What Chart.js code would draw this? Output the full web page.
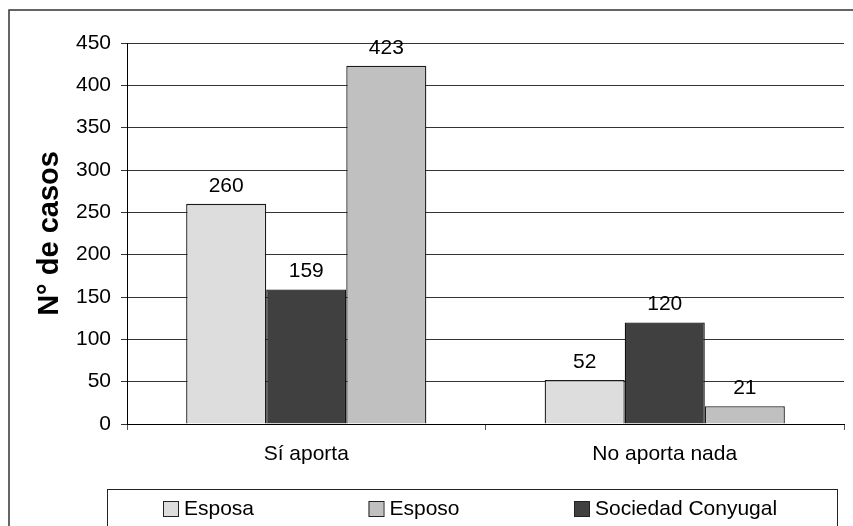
<!DOCTYPE html>
<html>
<head>
<meta charset="utf-8">
<script src="https://cdn.jsdelivr.net/npm/chart.js@4/dist/chart.umd.min.js"></script>
<style>
  html, body { margin: 0; padding: 0; background: #fff; }
  #grafico { display: block; }
</style>
</head>
<body>
<canvas id="grafico" width="853" height="526"></canvas>
<script>
// datos
var categorias = ["Sí aporta", "No aporta nada"];
var esposa = [260, 52];
var sociedad = [159, 120];
var esposo = [423, 21];
var ticksY = { min: 0, max: 450, paso: 50 };
var ordenLeyenda = [0, 2, 1]; // Esposa, Esposo, Sociedad Conyugal

var fuente = "'Liberation Sans', Arial, sans-serif";

// fondo + marco exterior
var marco = {
	id: 'marco',
	beforeDraw: function(chart){
		var ctx = chart.ctx;
		ctx.save();
		ctx.fillStyle = '#fff';
		ctx.fillRect(0, 0, chart.width, chart.height);
		ctx.strokeStyle = '#333';
		ctx.lineWidth = 1.5;
		ctx.strokeRect(9, 10, chart.width, chart.height);
		ctx.restore();
	}
};

// valores encima de cada barra
var etiquetas = {
	id: 'etiquetas',
	afterDatasetsDraw: function(chart){
		var ctx = chart.ctx;
		ctx.save();
		ctx.font = '21px ' + fuente;
		ctx.fillStyle = '#000';
		ctx.textAlign = 'center';
		ctx.textBaseline = 'alphabetic';
		chart.data.datasets.forEach(function(ds, i){
			var meta = chart.getDatasetMeta(i);
			meta.data.forEach(function(bar, j){
				ctx.fillText(String(ds.data[j]), bar.x, bar.y - 12);
			});
		});
		ctx.restore();
	}
};

// leyenda con recuadro, como la de Excel
var leyenda = {
	id: 'leyenda',
	afterDraw: function(chart){
		var ctx = chart.ctx;
		ctx.save();
		ctx.strokeStyle = '#222';
		ctx.lineWidth = 1;
		ctx.strokeRect(107.5, 489.5, 730, 60);
		ctx.font = '21px ' + fuente;
		ctx.textBaseline = 'middle';
		ctx.textAlign = 'left';
		ordenLeyenda.forEach(function(idx, k){
			var ds = chart.data.datasets[idx];
			var x = 163 + k * 205.5;
			ctx.fillStyle = ds.backgroundColor;
			ctx.fillRect(x, 501, 15, 15);
			ctx.strokeStyle = '#222';
			ctx.strokeRect(x + 0.5, 501.5, 15, 15);
			ctx.fillStyle = '#000';
			ctx.fillText(ds.label, x + 21, 509);
		});
		ctx.restore();
	}
};

var datos = {
	type: 'bar',
	data: {
		labels: categorias,
		datasets: [
			{ label: 'Esposa', data: esposa, backgroundColor: '#dddddd', borderColor: '#1a1a1a', borderWidth: 1.3 },
			{ label: 'Sociedad Conyugal', data: sociedad, backgroundColor: '#404040', borderColor: '#111', borderWidth: 1.3 },
			{ label: 'Esposo', data: esposo, backgroundColor: '#c0c0c0', borderColor: '#1a1a1a', borderWidth: 1.3 }
		]
	},
	options: {
		responsive: false,
		animation: false,
		devicePixelRatio: 1,
		categoryPercentage: 0.67,
		barPercentage: 1,
		layout: { padding: { left: 0, top: 43, right: 9, bottom: 0 } },
		plugins: {
			legend: { display: false },
			tooltip: { enabled: false }
		},
		scales: {
			x: {
				afterFit: function(scale){ scale.height = 102; },
				grid: { drawOnChartArea: false, drawTicks: true, tickLength: 6, color: '#555' },
				border: { display: true, color: '#000', width: 1 },
				ticks: { color: '#000', font: { family: fuente, size: 21 }, padding: 12 }
			},
			y: {
				min: ticksY.min,
				max: ticksY.max,
				afterFit: function(scale){ scale.width = 127; },
				ticks: { stepSize: ticksY.paso, color: '#000', font: { family: fuente, size: 21 }, padding: 10 },
				grid: { color: '#333', tickLength: 6, drawTicks: true },
				border: { display: true, color: '#000', width: 1 },
				title: {
					display: true,
					text: 'N° de casos',
					color: '#000',
					font: { family: fuente, size: 29, weight: 'bold' },
					padding: { top: 33, bottom: 0 }
				}
			}
		}
	},
	plugins: [marco, etiquetas, leyenda]
};

var canvas = document.getElementById('grafico').getContext('2d');
window.grafico = new Chart(canvas, datos);
</script>
</body>
</html>
